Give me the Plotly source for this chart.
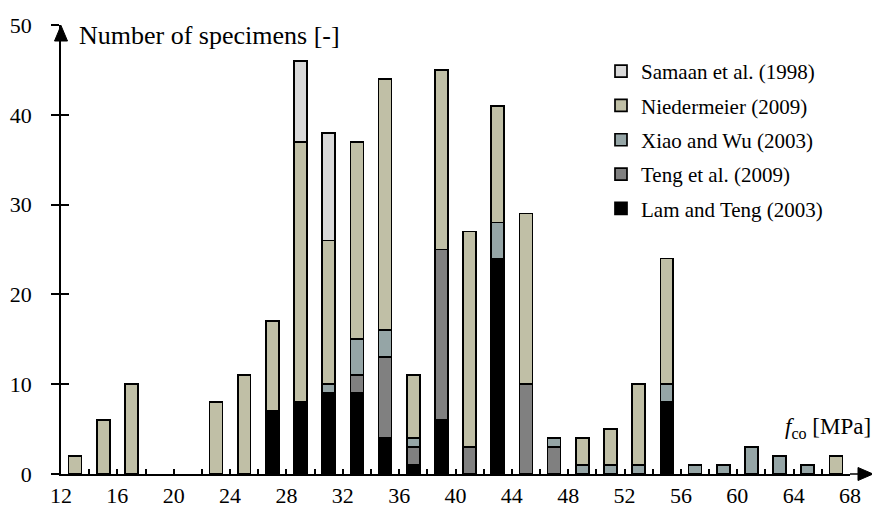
import plotly.graph_objects as go

# Compressive strength classes (bin centres, MPa)
fco_bins = [13, 15, 17, 19, 21, 23, 25, 27, 29, 31, 33, 35, 37, 39,
            41, 43, 45, 47, 49, 51, 53, 55, 57, 59, 61, 63, 65, 67]

# Number of specimens per database
lam_teng_2003 = [0, 0, 0, 0, 0, 0, 0, 7, 8, 9, 9, 4, 1, 6,
                 0, 24, 0, 0, 0, 0, 0, 8, 0, 0, 0, 0, 0, 0]
teng_2009 = [0, 0, 0, 0, 0, 0, 0, 0, 0, 0, 2, 9, 2, 19,
             3, 0, 10, 3, 0, 0, 0, 0, 0, 0, 0, 0, 0, 0]
xiao_wu_2003 = [0, 0, 0, 0, 0, 0, 0, 0, 0, 1, 4, 3, 1, 0,
                0, 4, 0, 1, 1, 1, 1, 2, 1, 1, 3, 2, 1, 0]
niedermeier_2009 = [2, 6, 10, 0, 0, 8, 11, 10, 29, 16, 22, 28, 7, 20,
                    24, 13, 19, 0, 3, 4, 9, 14, 0, 0, 0, 0, 0, 2]
samaan_1998 = [0, 0, 0, 0, 0, 0, 0, 0, 9, 12, 0, 0, 0, 0,
               0, 0, 0, 0, 0, 0, 0, 0, 0, 0, 0, 0, 0, 0]

series = [
    ("Lam and Teng (2003)", lam_teng_2003, "#000000"),
    ("Teng et al. (2009)", teng_2009, "#808080"),
    ("Xiao and Wu (2003)", xiao_wu_2003, "#95a5a6"),
    ("Niedermeier (2009)", niedermeier_2009, "#c0bfa6"),
    ("Samaan et al. (1998)", samaan_1998, "#d9d9d9"),
]

FONT = "Liberation Serif"

fig = go.Figure()
for i, (name, vals, color) in enumerate(series):
    # empty classes are left out so no outline is drawn for them;
    # the legend lists the top of the stack first
    fig.add_trace(go.Bar(
        x=fco_bins, y=[v if v else None for v in vals], name=name, width=0.92,
        legendgroup=f"g{i}", legendrank=100 - i,
        marker=dict(color=color, line=dict(color="black", width=1.7)),
    ))

# Plot-area geometry in pixels (used for the axis arrows)
W, H = 872, 507
ML, MR, MT, MB = 61, 22, 25, 33
PW, PH = W - ML - MR, H - MT - MB


def px(xp):
    return (xp - ML) / PW


def py(yp):
    return (H - MB - yp) / PH


fig.update_layout(
    width=W, height=H,
    margin=dict(l=ML, r=MR, t=MT, b=MB, autoexpand=False),
    barmode="stack",
    plot_bgcolor="white", paper_bgcolor="white",
    font=dict(family=FONT, size=21, color="black"),
    showlegend=True,
    legend=dict(
        traceorder="grouped", tracegroupgap=4,
        x=px(601), y=py(51), xanchor="left", yanchor="top",
        font=dict(family=FONT, size=21, color="black"),
        bgcolor="rgba(0,0,0,0)", itemwidth=30,
    ),
    xaxis=dict(
        range=[12, 68], tick0=12, dtick=4, automargin=False,
        showline=True, linecolor="black", linewidth=1.5,
        ticks="inside", ticklen=5, tickwidth=1.5, tickcolor="black",
        minor=dict(dtick=2, tick0=12, ticks="inside", ticklen=5,
                   tickwidth=1.5, tickcolor="black"),
        showgrid=False, zeroline=False,
        tickfont=dict(family=FONT, size=22), ticklabelstandoff=1,
    ),
    yaxis=dict(
        range=[0, 50], tick0=0, dtick=10, automargin=False,
        showline=True, linecolor="black", linewidth=1.5,
        ticks="outside", ticklen=8, tickwidth=1.5, tickcolor="black",
        showgrid=False, zeroline=False,
        tickfont=dict(family=FONT, size=22), ticklabelstandoff=15,
    ),
    yaxis2=dict(
        range=[0, 50], tick0=0, dtick=10, overlaying="y", side="left",
        anchor="x", ticks="inside", ticklen=8, tickwidth=1.5,
        tickcolor="black", showticklabels=False, showgrid=False,
        zeroline=False, showline=False, automargin=False,
    ),
)

# invisible trace so the secondary axis (inner half of the y ticks) is drawn
fig.add_trace(go.Scatter(x=[12], y=[0], yaxis="y2", mode="markers",
                         marker=dict(opacity=0), showlegend=False,
                         hoverinfo="skip"))

# Axis extension and arrowheads
fig.add_shape(type="line", xref="paper", yref="paper",
              x0=1, x1=px(866), y0=0, y1=0,
              line=dict(color="black", width=1.5))
fig.add_shape(type="path", xref="paper", yref="paper",
              path=f"M {px(858)},{py(467.5)} L {px(873)},{py(474)} L {px(858)},{py(480.5)} Z",
              fillcolor="black", line=dict(color="black", width=1))
fig.add_shape(type="path", xref="paper", yref="paper",
              path=f"M {px(54.5)},{py(41)} L {px(61)},{py(25.5)} L {px(67.5)},{py(41)} Z",
              fillcolor="black", line=dict(color="black", width=1))

# Axis titles
fig.add_annotation(text="Number of specimens [-]", xref="paper", yref="paper",
                   x=px(77), y=py(35), xanchor="left", yanchor="middle",
                   showarrow=False, font=dict(family=FONT, size=26))
fig.add_annotation(text="<i>f</i><sub>co</sub> [MPa]", xref="paper", yref="paper",
                   x=px(873), y=py(428), xanchor="right", yanchor="middle",
                   showarrow=False, font=dict(family=FONT, size=23))

fig.write_html("out.html")
